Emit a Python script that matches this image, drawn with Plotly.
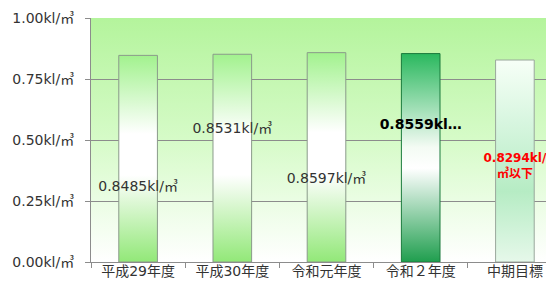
import base64
import plotly.graph_objects as go

categories = ["平成29年度", "平成30年度", "令和元年度", "令和２年度", "中期目標"]
values = [0.8485, 0.8531, 0.8597, 0.8559, 0.8294]
value_labels = ["0.8485kl/㎥", "0.8531kl/㎥", "0.8597kl/㎥", "0.8559kl…", "0.8294kl/<br>㎥以下"]
y_ticks = [0, 0.25, 0.5, 0.75, 1.0]
y_tick_text = ["0.00kl/㎥", "0.25kl/㎥", "0.50kl/㎥", "0.75kl/㎥", "1.00kl/㎥"]

# styling (not data)
LABEL_Y = [0.307, 0.545, 0.34, 0.561, 0.39]
LABEL_COLORS = ["#333333", "#333333", "#333333", "#000000", "#ff0000"]
LABEL_BOLD = [False, False, False, True, True]
LABEL_SIZE = [14, 14, 14, 14, 12]
GREEN = [[0, "#92e878"], [0.42, "#ffffff"], [0.62, "#ffffff"], [1, "#a2f28e"]]
DARK = [[0, "#1f9e4e"], [0.45, "#ffffff"], [0.55, "#f4fbf4"], [1, "#2ab85e"]]
MINT = [[0, "#e6f8ea"], [0.35, "#b6ecc4"], [0.7, "#d8f6e0"], [1, "#f7fff7"]]
BAR_SCALES = [GREEN, GREEN, GREEN, DARK, MINT]
BAR_LINES = ["#8a9a8a", "#8a9a8a", "#8a9a8a", "#1a7a3c", "#9aa89c"]
HALF = 0.205
FONT = "DejaVu Sans, Noto Sans CJK JP"

fig = go.Figure()

for i, v in enumerate(values):
    fig.add_trace(go.Scatter(
        x=[i - HALF, i + HALF, i + HALF, i - HALF, i - HALF],
        y=[0, 0, v, v, 0],
        mode="lines",
        fill="toself",
        fillgradient=dict(type="vertical", colorscale=BAR_SCALES[i], start=0, stop=v),
        line=dict(color=BAR_LINES[i], width=1),
        hoverinfo="skip",
        showlegend=False,
    ))

for i, v in enumerate(values):
    txt = value_labels[i]
    if LABEL_BOLD[i]:
        txt = "<b>" + txt + "</b>"
    fig.add_trace(go.Scatter(
        x=[i], y=[LABEL_Y[i]], mode="text", text=[txt],
        textposition="middle center", cliponaxis=False,
        textfont=dict(family=FONT, size=LABEL_SIZE[i], color=LABEL_COLORS[i]),
        hoverinfo="skip", showlegend=False,
    ))

svg = ('<svg xmlns="http://www.w3.org/2000/svg" width="100" height="100" preserveAspectRatio="none">'
       '<defs><linearGradient id="g" x1="0" y1="0" x2="0" y2="1">'
       '<stop offset="0" stop-color="#b4f49c"/>'
       '<stop offset="0.5" stop-color="#d6fbc8"/>'
       '<stop offset="1" stop-color="#ffffff"/>'
       '</linearGradient></defs><rect width="100" height="100" fill="url(#g)"/></svg>')
src = "data:image/svg+xml;base64," + base64.b64encode(svg.encode()).decode()

fig.add_layout_image(dict(
    source=src, xref="x domain", yref="y domain", x=0, y=1, sizex=1, sizey=1,
    xanchor="left", yanchor="top", sizing="stretch", layer="below",
))

fig.update_layout(
    width=554, height=281,
    margin=dict(l=83, r=0, t=10, b=27),
    paper_bgcolor="white", plot_bgcolor="rgba(0,0,0,0)",
    font=dict(family=FONT, size=14, color="#333333"),
)
fig.update_xaxes(
    range=[-0.5, 4.5], tickmode="array", tickvals=list(range(len(categories))),
    ticktext=categories, ticks="", showgrid=False, showline=True, linecolor="#8c8c8c",
    zeroline=False, tickfont=dict(family=FONT, size=14, color="#333333"),
    ticklabelstandoff=-4,
    minor=dict(tickmode="array", tickvals=[k - 0.5 for k in range(len(categories) + 1)],
               ticks="outside", ticklen=5, tickcolor="#8c8c8c", showgrid=False),
)
fig.update_yaxes(
    range=[0, 1.002], tickmode="array", tickvals=y_ticks, ticktext=y_tick_text,
    ticks="outside", ticklen=5, tickcolor="#8c8c8c", showgrid=True, gridcolor="#8c8c8c",
    gridwidth=1, showline=True, linecolor="#8c8c8c", zeroline=False,
    tickfont=dict(family=FONT, size=14, color="#333333"), ticklabelstandoff=8,
)

fig.write_html("out.html")
